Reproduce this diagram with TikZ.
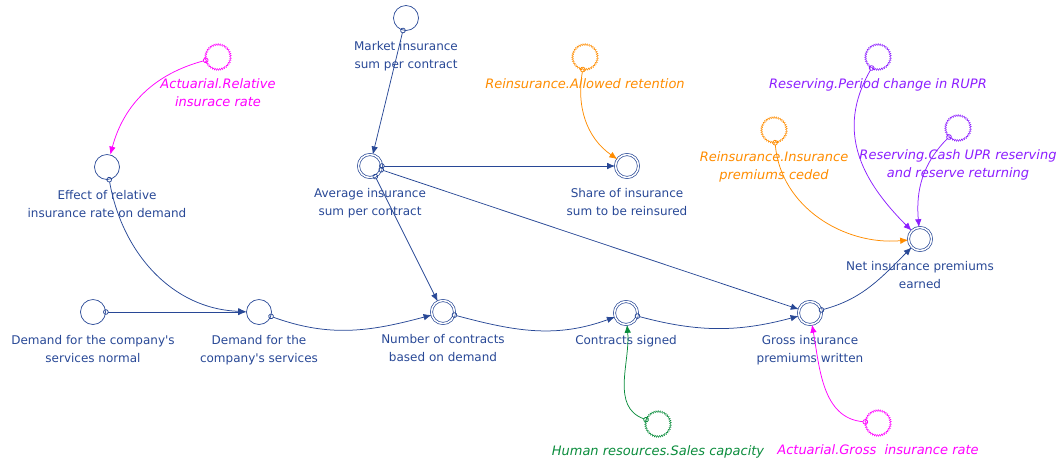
\documentclass[tikz,border=0pt]{standalone}
\usepackage{fontspec}
\setmainfont{DejaVu Sans}
\usetikzlibrary{positioning,arrows.meta,decorations.pathmorphing}
\definecolor{sdblue}{RGB}{40,72,150}
\definecolor{sdmag}{RGB}{255,0,255}
\definecolor{sdorange}{RGB}{255,140,0}
\definecolor{sdpurple}{RGB}{140,30,255}
\definecolor{sdgreen}{RGB}{10,140,60}

\begin{document}
\begin{tikzpicture}[x=1pt, y=-1pt,
  varnode/.style={circle, draw=sdblue, line width=0.7pt, minimum size=25pt, inner sep=0pt},
  dblnode/.style={varnode, minimum size=23pt, double, double distance=1.5pt},
  refnode/.style={circle, draw=#1, line width=0.45pt, minimum size=25pt, inner sep=0pt, decorate, decoration={zigzag, segment length=2pt, amplitude=0.9pt}},
  lbl/.style={align=center, text=sdblue, font=\fontsize{12}{18}\selectfont, inner sep=0pt, label distance=10pt},
  rlbl/.style={align=center, text=#1, font=\fontsize{13}{18}\selectfont\itshape, inner sep=0pt, label distance=9pt},
  link/.style={draw=#1, line width=0.75pt, {Circle[open,length=5.5pt,width=5.5pt]}-{Latex[length=8pt,width=6.5pt]}, shorten <=-2.75pt},
  link/.default=sdblue]

  \useasboundingbox (0,0) rectangle (1061,459);

  % stocks of the model
  \node[varnode] (normal) at (93,312) [label={[lbl]below:{Demand for the company\textquotesingle s\\services normal}}] {};
  \node[varnode] (demand) at (259,312) [label={[lbl]below:{Demand for the\\company\textquotesingle s services}}] {};
  \node[dblnode] (number) at (443,312) [label={[lbl]below:{Number of contracts\\based on demand}}] {};
  \node[dblnode] (signed) at (626,313) [label={[lbl]below:{Contracts signed}}] {};
  \node[dblnode] (gross) at (810,313) [label={[lbl]below:{Gross insurance\\premiums written}}] {};
  \node[dblnode] (net) at (920,239) [label={[lbl]below:{Net insurance premiums\\earned}}] {};
  \node[varnode] (effect) at (107,167) [label={[lbl]below:{Effect of relative\\insurance rate on demand}}] {};
  \node[varnode] (market) at (406,18) [label={[lbl]below:{Market insurance\\sum per contract}}] {};
  \node[dblnode] (average) at (370,166) [label={[lbl]below:{Average insurance\\sum per contract}}] {};
  \node[dblnode] (share) at (627,166) [label={[lbl]below:{Share of insurance\\sum to be reinsured}}] {};

  % references to other modules
  \node[refnode=sdmag] (actrel) at (218,57) [label={[rlbl=sdmag]below:{Actuarial.Relative\\insurace rate}}] {};
  \node[refnode=sdorange] (allowret) at (585,57) [label={[rlbl=sdorange]below:{Reinsurance.Allowed retention}}] {};
  \node[refnode=sdpurple] (period) at (878,57) [label={[rlbl=sdpurple]below:{Reserving.Period change in RUPR}}] {};
  \node[refnode=sdorange] (ceded) at (774,130) [label={[rlbl=sdorange]below:{Reinsurance.Insurance\\premiums ceded}}] {};
  \node[refnode=sdpurple] (cashupr) at (958,128) [label={[rlbl=sdpurple]below:{Reserving.Cash UPR reserving\\and reserve returning}}] {};
  \node[refnode=sdgreen] (sales) at (658,424) [label={[rlbl=sdgreen]below:{Human resources.Sales capacity}}] {};
  \node[refnode=sdmag] (grossrate) at (878,423) [label={[rlbl=sdmag]below:{Actuarial.Gross\ \ insurance rate}}] {};

  \path
    (actrel) edge[link=sdmag, out=195, in=75] (effect)
    (effect) edge[link, out=-80, in=178] (demand)
    (normal) edge[link] (demand)
    (demand) edge[link, out=-20, in=195] (number)
    (market) edge[link] (average)
    (average) edge[link] (share)
    (average) edge[link] (number)
    (average) edge[link] (gross)
    (number) edge[link, out=-15, in=200] (signed)
    (signed) edge[link, out=-15, in=195] (gross)
    (gross) edge[link, out=15, in=225] (net)
    (allowret) edge[link=sdorange, out=-100, in=145] (share)
    (period) edge[link=sdpurple, out=-120, in=135, looseness=1.1] (net)
    (ceded) edge[link=sdorange, out=-85, in=185] (net)
    (cashupr) edge[link=sdpurple, out=225, in=95] (net)
    (sales) edge[link=sdgreen, out=160, in=-85] (signed)
    (grossrate) edge[link=sdmag, out=175, in=-80] (gross)
  ;
\end{tikzpicture}
\end{document}
